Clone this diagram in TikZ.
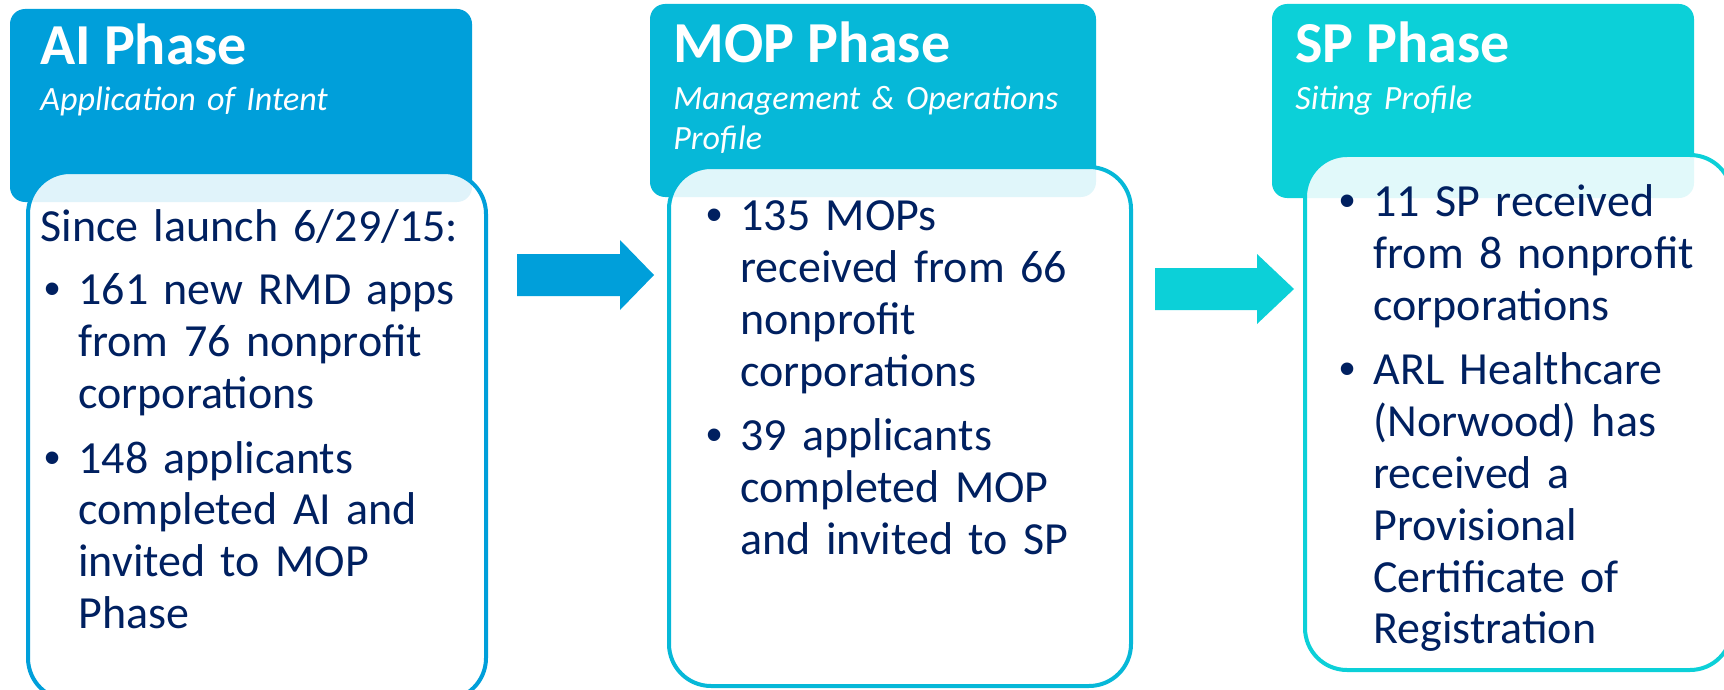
\documentclass[tikz,border=0pt]{standalone}
\usepackage{fontspec}
\setmainfont{Carlito}
\newfontfamily\bulletfont{Liberation Sans}
\usetikzlibrary{positioning}

\definecolor{aiblue}{RGB}{0,159,218}
\definecolor{mopblue}{RGB}{6,184,216}
\definecolor{spcyan}{RGB}{12,208,216}
\definecolor{navy}{RGB}{0,32,96}

% one bullet item, lines broken by hand
\newcommand{\phaseitem}[1]{\hangindent=19pt\hangafter=0\noindent\llap{{\bulletfont\textbullet}\hskip 9pt}#1\par}
\newcommand{\itemgap}{\vskip 6pt}

\begin{document}
\begin{tikzpicture}[x=0.5pt, y=-0.5pt,
    header/.style={rounded corners=7.5pt},
    phasebody/.style={line width=2pt, rounded corners=21pt, fill=white, fill opacity=0.88},
    title/.style={anchor=base west, inner sep=0pt, text=white, font=\bfseries\fontsize{29}{34}\selectfont},
    subtitle/.style={anchor=base west, inner sep=0pt, text=white, text width=215pt, align=left, font=\itshape\fontsize{17}{20}\selectfont},
    bodytext/.style={anchor=base west, inner sep=0pt, text=navy, text width=#1, align=left, font=\fontsize{23}{26}\selectfont}]
    \useasboundingbox (0,0) rectangle (1724,690);

    % AI phase
    \fill[header, aiblue] (10,9) rectangle (472,202);
    \node[title] (aititle) at (40,65) {AI Phase};
    \node[subtitle] (aisub) at (40,111) {Application of Intent};
    \draw[phasebody, draw=aiblue] (28,172) rectangle (486,700);
    \node[bodytext=220pt] (aitext) at (40,241) {%
        Since launch 6/29/15:\par\itemgap
        \phaseitem{161 new RMD apps\newline from 76 nonprofit\newline corporations}\itemgap
        \phaseitem{148 applicants\newline completed AI and\newline invited to MOP\newline Phase}};

    % Arrow
    \fill[aiblue] (517,254) -- (620,254) -- (620,240) -- (654,275) -- (620,310)
        -- (620,296) -- (517,296) -- cycle;

    % MOP phase
    \fill[header, mopblue] (650,4) rectangle (1096,197);
    \node[title] (moptitle) at (673,63) {MOP Phase};
    \node[subtitle] (mopsub) at (673,110) {Management \& Operations\\Profile};
    \draw[phasebody, draw=mopblue] (669,167) rectangle (1131,686);
    \node[bodytext=200pt] (moptext) at (702,230) {%
        \phaseitem{135 MOPs\newline received from 66\newline nonprofit\newline corporations}\itemgap
        \phaseitem{39 applicants\newline completed MOP\newline and invited to SP}};

    % Arrow
    \fill[spcyan] (1155,268) -- (1257,268) -- (1257,254) -- (1294,289) -- (1257,324)
        -- (1257,310) -- (1155,310) -- cycle;

    % SP phase
    \fill[header, spcyan] (1272,4) rectangle (1694,198);
    \node[title] (sptitle) at (1295,63) {SP Phase};
    \node[subtitle] (spsub) at (1295,110) {Siting Profile};
    \draw[phasebody, draw=spcyan] (1305,155) rectangle (1732,670);
    \node[bodytext=190pt] (sptext) at (1335,216) {%
        \phaseitem{11 SP received\newline from 8 nonprofit\newline corporations}\itemgap
        \phaseitem{ARL Healthcare\newline (Norwood) has\newline received a\newline Provisional\newline Certificate of\newline Registration}};
\end{tikzpicture}
\end{document}
